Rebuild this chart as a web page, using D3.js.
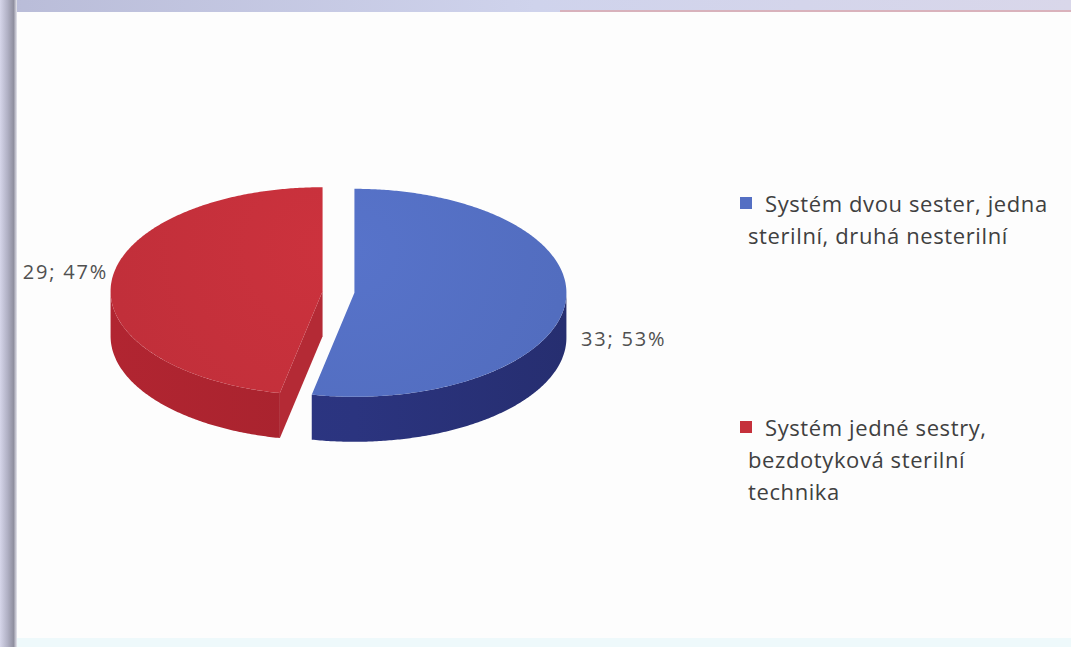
<!DOCTYPE html>
<html>
<head>
<meta charset="utf-8">
<script src="https://cdn.jsdelivr.net/npm/d3@7"></script>
<style>
  html, body { margin: 0; padding: 0; background: #fdfdfd; }
  svg { display: block; }
</style>
</head>
<body>
<svg id="chart" width="1071" height="647"></svg>
<script>
// Data
const categories = [
  "Systém dvou sester, jedna sterilní, druhá nesterilní",
  "Systém jedné sestry, bezdotyková sterilní technika"
];
const legendLines = [
  ["Systém dvou sester, jedna", "sterilní, druhá nesterilní"],
  ["Systém jedné sestry,", "bezdotyková sterilní", "technika"]
];
const counts = [33, 29];
const percents = [53, 47];

// Colours per slice: top face, outer wall, cut face
const topColors  = ["#546fc3", "#c5303b"];
const wallColors = ["#2b347f", "#a8232e"];
const cutColors  = ["#2b347f", "#b42a35"];

const W = 1071, H = 647;
const svg = d3.select("#chart");

// Frame around the plot area
const defs = svg.append("defs");
const gTop = defs.append("linearGradient").attr("id", "frameTop").attr("x1", 0).attr("x2", 1).attr("y1", 0).attr("y2", 0);
gTop.append("stop").attr("offset", 0).attr("stop-color", "#b9bcd8");
gTop.append("stop").attr("offset", 0.5).attr("stop-color", "#cfd3ec");
gTop.append("stop").attr("offset", 1).attr("stop-color", "#d9d7ea");
const gLeft = defs.append("linearGradient").attr("id", "frameLeft").attr("x1", 0).attr("x2", 1).attr("y1", 0).attr("y2", 0);
gLeft.append("stop").attr("offset", 0).attr("stop-color", "#d6d6ea");
gLeft.append("stop").attr("offset", 0.45).attr("stop-color", "#b0b0c4");
gLeft.append("stop").attr("offset", 0.8).attr("stop-color", "#8f8f9f");
gLeft.append("stop").attr("offset", 1).attr("stop-color", "#e8e8f0");

svg.append("rect").attr("x", 0).attr("y", 0).attr("width", W).attr("height", H).attr("fill", "#fdfdfd");
svg.append("rect").attr("x", 0).attr("y", 0).attr("width", W).attr("height", 12).attr("fill", "url(#frameTop)");
svg.append("rect").attr("x", 560).attr("y", 10).attr("width", W - 560).attr("height", 2).attr("fill", "#d9a9b0").attr("opacity", 0.8);
svg.append("rect").attr("x", 0).attr("y", 0).attr("width", 17).attr("height", H).attr("fill", "url(#frameLeft)");
svg.append("rect").attr("x", 17).attr("y", 638).attr("width", W - 17).attr("height", 9).attr("fill", "#eef9fb");

// 3D pie geometry
const cx = 338.5, cy = 292;
const rx = 212, ry = 104, depth = 45, explode = 16;

const pie = d3.pie().sort(null).value(d => d);
const arcs = pie(counts);

function pt(a, ox, oy, dz) {
  return [ox + rx * Math.sin(a), oy - ry * Math.cos(a) + (dz || 0)];
}
function arcPoints(a0, a1, ox, oy, dz) {
  const n = Math.max(2, Math.ceil(Math.abs(a1 - a0) / 0.01));
  return d3.range(n + 1).map(i => pt(a0 + (a1 - a0) * i / n, ox, oy, dz));
}
const line = d3.line();

const slices = arcs.map((d, i) => {
  const mid = (d.startAngle + d.endAngle) / 2;
  const ox = cx + explode * Math.sin(mid);
  const oy = cy - explode * Math.cos(mid) * (ry / rx);
  return { d, i, ox, oy };
});

const pieG = svg.append("g");

// Cut faces (radial walls) that face the viewer
slices.forEach(s => {
  const faces = [];
  if (Math.sin(s.d.startAngle) < 0) faces.push(s.d.startAngle);
  if (Math.sin(s.d.endAngle) > 0) faces.push(s.d.endAngle);
  faces.forEach(a => {
    const p = pt(a, s.ox, s.oy, 0);
    const pts = [[s.ox, s.oy], p, [p[0], p[1] + depth], [s.ox, s.oy + depth]];
    pieG.append("path").attr("d", line(pts) + "Z").attr("fill", cutColors[s.i]);
  });
});

// Outer walls on the front half of the ellipse
const wallGrad = slices.map(s => {
  const g = defs.append("linearGradient").attr("id", "wall" + s.i)
    .attr("gradientUnits", "userSpaceOnUse")
    .attr("x1", s.ox - rx).attr("x2", s.ox + rx).attr("y1", 0).attr("y2", 0);
  const c = d3.color(wallColors[s.i]);
  g.append("stop").attr("offset", 0).attr("stop-color", c.brighter(0.15));
  g.append("stop").attr("offset", 0.5).attr("stop-color", c);
  g.append("stop").attr("offset", 1).attr("stop-color", c.darker(0.35));
  return "url(#wall" + s.i + ")";
});
slices.forEach(s => {
  const a0 = Math.max(s.d.startAngle, Math.PI / 2);
  const a1 = Math.min(s.d.endAngle, 3 * Math.PI / 2);
  if (a1 <= a0) return;
  const top = arcPoints(a0, a1, s.ox, s.oy, 0);
  const bottom = arcPoints(a1, a0, s.ox, s.oy, depth);
  pieG.append("path").attr("d", line(top.concat(bottom)) + "Z").attr("fill", wallGrad[s.i]);
});

// Top faces
slices.forEach(s => {
  const g = defs.append("radialGradient").attr("id", "top" + s.i)
    .attr("gradientUnits", "userSpaceOnUse")
    .attr("cx", s.ox).attr("cy", s.oy - ry * 0.4).attr("r", rx);
  const c = d3.color(topColors[s.i]);
  g.append("stop").attr("offset", 0).attr("stop-color", c.brighter(0.1));
  g.append("stop").attr("offset", 1).attr("stop-color", c.darker(0.06));
  const pts = [[s.ox, s.oy]].concat(arcPoints(s.d.startAngle, s.d.endAngle, s.ox, s.oy, 0));
  pieG.append("path").attr("d", line(pts) + "Z").attr("fill", "url(#top" + s.i + ")");
});

// Data labels
const labelFont = "'Open Sans', Lato, sans-serif";
const labelPos = [[581, 346, "start"], [108, 279, "end"]];
counts.forEach((v, i) => {
  svg.append("text")
    .attr("x", labelPos[i][0]).attr("y", labelPos[i][1])
    .attr("text-anchor", labelPos[i][2])
    .attr("font-family", labelFont).attr("font-size", 20)
    .attr("letter-spacing", 1.8)
    .attr("fill", "#505050")
    .text(v + "; " + percents[i] + "%");
});

// Legend
const legendY = [212, 436];
const legend = svg.append("g");
categories.forEach((c, i) => {
  const g = legend.append("g").attr("transform", `translate(740,${legendY[i]})`);
  g.append("rect").attr("x", 0).attr("y", -15).attr("width", 12).attr("height", 12).attr("fill", topColors[i]);
  legendLines[i].forEach((t, j) => {
    g.append("text")
      .attr("x", j === 0 ? 25 : 8).attr("y", j * 32)
      .attr("font-family", labelFont).attr("font-size", 22)
      .attr("letter-spacing", 0.6)
      .attr("fill", "#404040")
      .text(t);
  });
});
</script>
</body>
</html>
